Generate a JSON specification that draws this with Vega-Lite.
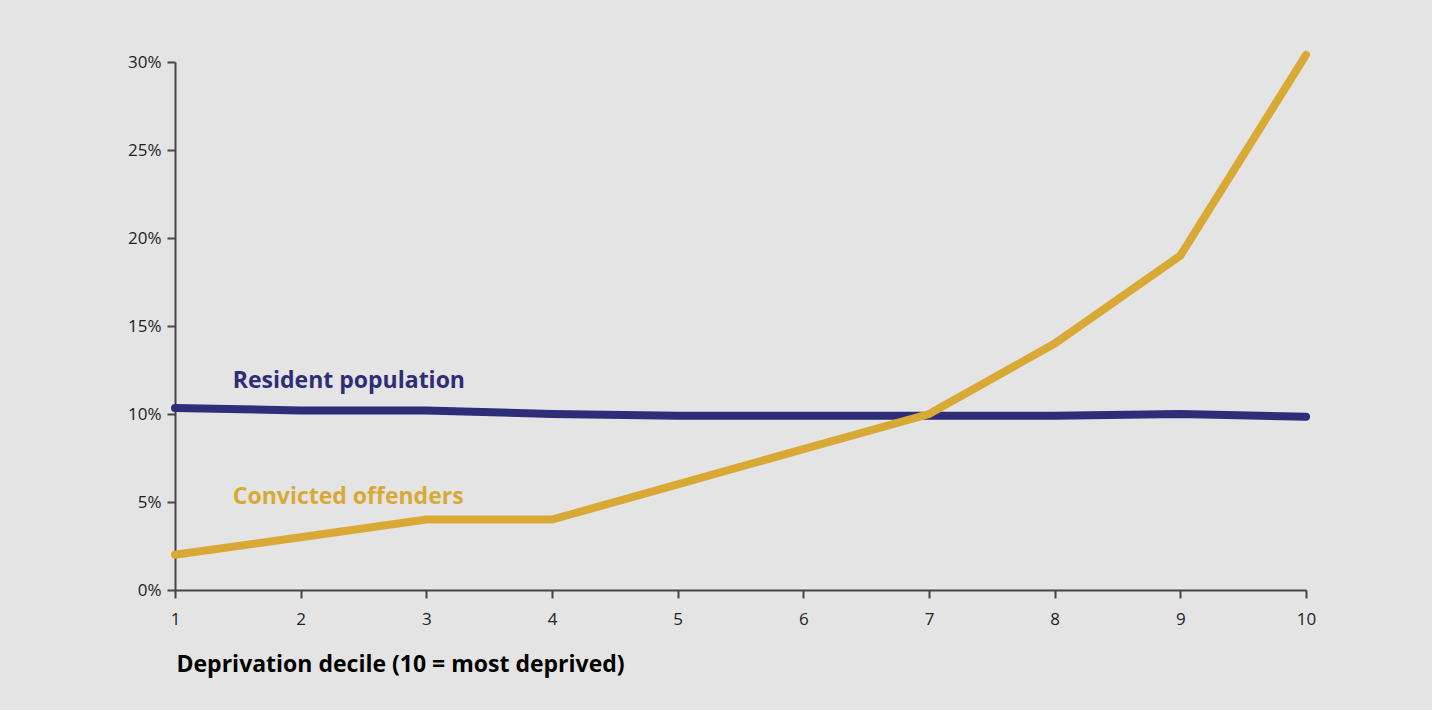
{
  "$schema": "https://vega.github.io/schema/vega-lite/v6.json",
  "width": 1131,
  "height": 528,
  "autosize": {"type": "none"},
  "padding": {"left": 175, "top": 62, "right": 126, "bottom": 120},
  "background": "#e4e4e4",
  "config": {
    "view": {"stroke": null},
    "font": "Open Sans",
    "axis": {"grid": false, "domainColor": "#444444", "domainWidth": 2, "tickColor": "#444444", "tickWidth": 2, "tickSize": 8, "labelColor": "#222222", "labelFont": "Open Sans", "labelFontSize": 17}
  },
  "datasets": {
    "series": [
      {"decile": 1, "series": "Resident population", "share": 0.1034},
      {"decile": 2, "series": "Resident population", "share": 0.102},
      {"decile": 3, "series": "Resident population", "share": 0.102},
      {"decile": 4, "series": "Resident population", "share": 0.1},
      {"decile": 5, "series": "Resident population", "share": 0.099},
      {"decile": 6, "series": "Resident population", "share": 0.099},
      {"decile": 7, "series": "Resident population", "share": 0.099},
      {"decile": 8, "series": "Resident population", "share": 0.099},
      {"decile": 9, "series": "Resident population", "share": 0.1},
      {"decile": 10, "series": "Resident population", "share": 0.0985},
      {"decile": 1, "series": "Convicted offenders", "share": 0.02},
      {"decile": 2, "series": "Convicted offenders", "share": 0.03},
      {"decile": 3, "series": "Convicted offenders", "share": 0.04},
      {"decile": 4, "series": "Convicted offenders", "share": 0.04},
      {"decile": 5, "series": "Convicted offenders", "share": 0.06},
      {"decile": 6, "series": "Convicted offenders", "share": 0.08},
      {"decile": 7, "series": "Convicted offenders", "share": 0.1},
      {"decile": 8, "series": "Convicted offenders", "share": 0.14},
      {"decile": 9, "series": "Convicted offenders", "share": 0.19},
      {"decile": 10, "series": "Convicted offenders", "share": 0.304}
    ],
    "labels": [
      {"decile": 1.46, "series": "Resident population", "share": 0.1148},
      {"decile": 1.46, "series": "Convicted offenders", "share": 0.0489}
    ]
  },
  "layer": [
    {
      "data": {"name": "series"},
      "mark": {"type": "line", "strokeWidth": 8, "strokeCap": "round", "strokeJoin": "miter"},
      "encoding": {
        "x": {"field": "decile", "type": "quantitative", "scale": {"domain": [1, 10], "nice": false, "zero": false},
          "axis": {"values": [1,2,3,4,5,6,7,8,9,10], "format": "d", "labelFlush": false, "labelPadding": 13, "title": "Deprivation decile (10 = most deprived)", "titleFont": "Open Sans", "titleFontSize": 23, "titleFontWeight": "bold", "titleColor": "#000000", "titleAnchor": "start", "titleAlign": "left", "titleBaseline": "alphabetic", "titleX": 1, "titleY": 81}},
        "y": {"field": "share", "type": "quantitative", "scale": {"domain": [0, 0.3], "nice": false},
          "axis": {"values": [0, 0.05, 0.1, 0.15, 0.2, 0.25, 0.3], "format": ".0%", "labelPadding": 6, "labelFlush": false, "title": null}},
        "color": {"field": "series", "type": "nominal", "scale": {"domain": ["Resident population", "Convicted offenders"], "range": ["#2d2d78", "#d9a936"]}, "legend": null}
      }
    },
    {
      "data": {"name": "labels"},
      "mark": {"type": "text", "align": "left", "baseline": "alphabetic", "fontSize": 23, "fontWeight": "bold", "font": "Open Sans"},
      "encoding": {
        "x": {"field": "decile", "type": "quantitative"},
        "y": {"field": "share", "type": "quantitative"},
        "text": {"field": "series"},
        "color": {"field": "series", "type": "nominal", "legend": null}
      }
    }
  ]
}
